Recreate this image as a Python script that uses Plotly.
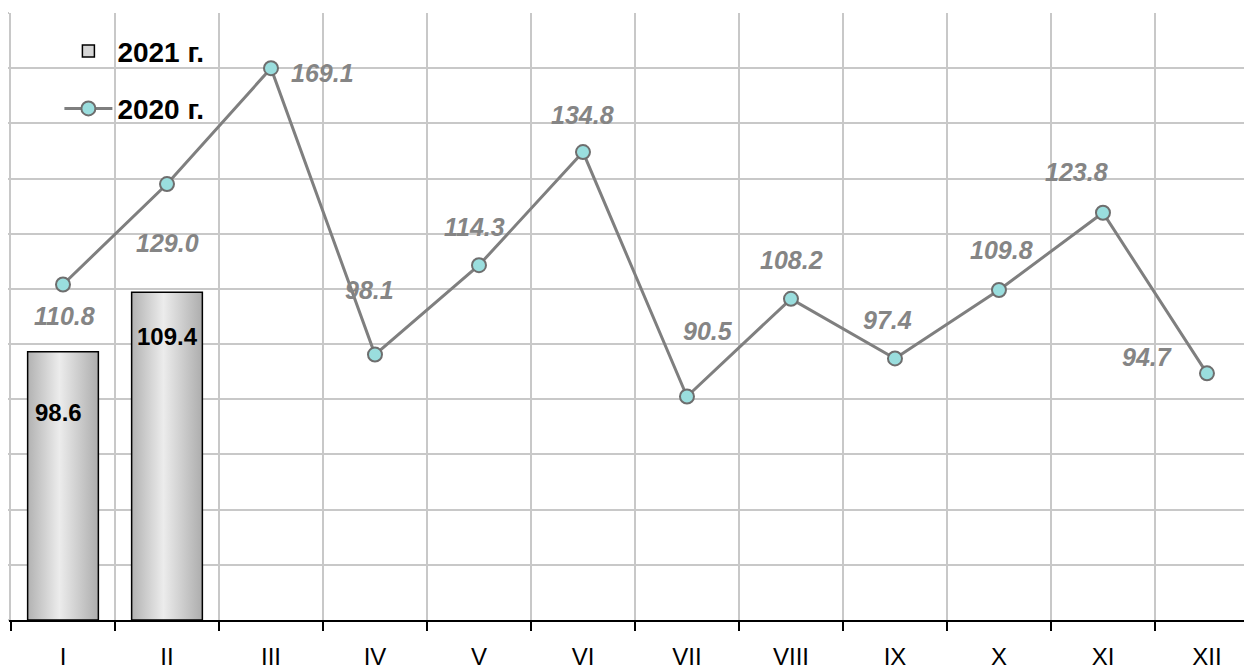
import plotly.graph_objects as go

# ---- data ----
months = ["I", "II", "III", "IV", "V", "VI", "VII", "VIII", "IX", "X", "XI", "XII"]
values_2021 = [98.6, 109.4]
values_2020 = [110.8, 129.0, 169.1, 98.1, 114.3, 134.8, 90.5, 108.2, 97.4, 109.8, 123.8, 94.7]
name_2021 = "2021 г."
name_2020 = "2020 г."

# ---- layout / style constants ----
Y_MIN, Y_MAX, Y_STEP = 50, 160, 10
AXIS_CAP = 150          # the original chart draws the out-of-scale point at this level
BAR_W = 0.68
FONT = "Liberation Sans"
GRID = "#c8c8c8"
LINE_GRAY = "#7f7f7f"
LABEL_GRAY = "#858585"
MARKER_FILL = "#9adede"
BAR_FILL = "#d6d6d6"

# label offsets (pixels, x right / y up) relative to the data point
shift_2020 = [(1, -32), (0, -59), (52, -5), (-5, 65), (-4, 38), (0, 37),
              (21, 66), (1, 39), (-7, 38), (3, 40), (-26, 41), (-60, 16)]
shift_2021 = [(-5, -61), (0, -44)]

fig = go.Figure()

# bars of 2021 drawn as gradient-filled rectangles on the numeric month axis
for i, v in enumerate(values_2021):
    x0, x1 = i - BAR_W / 2, i + BAR_W / 2
    fig.add_trace(go.Scatter(
        x=[x0, x0, x1, x1, x0],
        y=[Y_MIN, v, v, Y_MIN, Y_MIN],
        mode="lines",
        fill="toself",
        fillgradient=dict(type="horizontal",
                          colorscale=[[0, "#b2b2b2"], [0.45, "#ececec"], [1, "#adadad"]]),
        line=dict(color="black", width=1.5),
        name=name_2021,
        legendgroup="g2021",
        showlegend=False,
        hoverinfo="skip",
    ))
# legend entry for the bars
fig.add_trace(go.Bar(
    x=[None], y=[None], name=name_2021, legendgroup="g2021",
    marker=dict(color=BAR_FILL, line=dict(color="black", width=1.5)),
))

plot_2020 = [min(v, AXIS_CAP) for v in values_2020]
fig.add_trace(go.Scatter(
    x=list(range(len(months))),
    y=plot_2020,
    mode="lines+markers",
    line=dict(color=LINE_GRAY, width=3),
    marker=dict(size=14, color=MARKER_FILL, line=dict(color="#6e6e6e", width=2)),
    name=name_2020,
    legendgroup="g2020",
))

annotations = []
for i, (v, pv) in enumerate(zip(values_2020, plot_2020)):
    dx, dy = shift_2020[i]
    annotations.append(dict(
        x=i, y=pv, xref="x", yref="y", text=f"{v:.1f}", showarrow=False,
        xshift=dx, yshift=dy,
        font=dict(family=FONT, size=25, color=LABEL_GRAY, weight="bold", style="italic"),
    ))
for i, v in enumerate(values_2021):
    dx, dy = shift_2021[i]
    annotations.append(dict(
        x=i, y=v, xref="x", yref="y", text=f"{v:.1f}", showarrow=False,
        xshift=dx, yshift=dy,
        font=dict(family=FONT, size=24, color="black", weight="bold"),
    ))

# the page adds an 8 px body margin, so the figure is sized to fit the window
fig.update_layout(
    width=1244, height=658,
    margin=dict(l=3, r=0, t=5, b=46, autoexpand=False),
    paper_bgcolor="white", plot_bgcolor="white",
    annotations=annotations,
    showlegend=True,
    barmode="overlay",
    legend=dict(
        xref="paper", yref="paper", x=0.039, y=0.978,
        xanchor="left", yanchor="top",
        bgcolor="rgba(255,255,255,0)",
        font=dict(family=FONT, size=28, color="black", weight="bold"),
        traceorder="grouped", tracegroupgap=18,
        itemwidth=48,
    ),
    xaxis=dict(
        range=[-0.5, 11.433],
        tickmode="array", tickvals=list(range(len(months))), ticktext=months,
        ticks="outside", ticklen=14, tickcolor="rgba(0,0,0,0)",
        showgrid=False, zeroline=False,
        showline=True, linecolor="black", linewidth=2,
        tickfont=dict(family=FONT, size=24, color="black"),
        minor=dict(tick0=-0.5, dtick=1, ticks="outside", ticklen=9, tickwidth=2,
                   tickcolor="black", showgrid=True, gridcolor=GRID, gridwidth=2),
    ),
    yaxis=dict(
        range=[Y_MIN, Y_MAX], tick0=Y_MIN, dtick=Y_STEP,
        showticklabels=False, ticks="outside", ticklen=3, tickcolor=GRID, tickwidth=2,
        showgrid=True, gridcolor=GRID, gridwidth=2, zeroline=False,
        showline=True, linecolor=GRID, linewidth=2,
    ),
)

fig.write_html("out.html")
